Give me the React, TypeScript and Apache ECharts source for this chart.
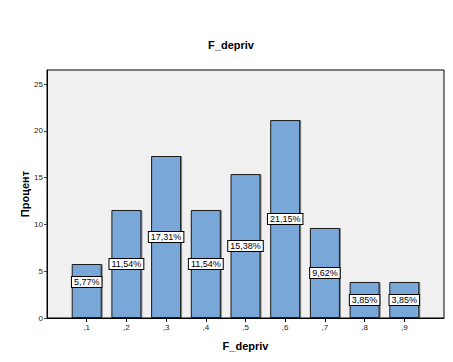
import React, { useEffect, useRef } from "react";
import * as echarts from "echarts";

const categories: number[] = [0.1, 0.2, 0.3, 0.4, 0.5, 0.6, 0.7, 0.8, 0.9];
const percents: number[] = [5.77, 11.54, 17.31, 11.54, 15.38, 21.15, 9.62, 3.85, 3.85];
const yTicks: number[] = [0, 5, 10, 15, 20, 25];
const title = "F_depriv";
const xName = "F_depriv";
const yName = "Процент";

const FONT = "Liberation Sans, Arial, sans-serif";

export default function App() {
  const ref = useRef<HTMLDivElement>(null);
  useEffect(() => {
    if (!ref.current) return;
    const chart = echarts.init(ref.current, undefined, { renderer: "svg" });
    const fmtTick = (v: number) => "," + String(Math.round(v * 10));
    chart.setOption({
      animation: false,
      backgroundColor: "#ffffff",
      title: {
        text: title,
        left: 226,
        top: 34,
        textAlign: "center",
        textStyle: { fontFamily: FONT, fontSize: 11, fontWeight: "bold", color: "#000" },
      },
      grid: {
        left: 47,
        right: 9,
        top: 70,
        bottom: 44,
        show: true,
        backgroundColor: "#f0f0f0",
        borderColor: "#000",
        borderWidth: 1,
      },
      xAxis: {
        type: "value",
        min: 0,
        max: 1,
        interval: 0.1,
        name: xName,
        nameLocation: "middle",
        nameGap: 22,
        nameTextStyle: { fontFamily: FONT, fontSize: 11, fontWeight: "bold", color: "#000" },
        axisLine: { show: true, lineStyle: { color: "#000" } },
        splitLine: { show: false },
        axisTick: { show: true, length: 4, customValues: categories, lineStyle: { color: "#000" } },
        axisLabel: {
          customValues: categories,
          formatter: fmtTick,
          fontFamily: FONT,
          fontSize: 8,
          color: "#222",
          margin: 5,
        },
      },
      yAxis: {
        type: "value",
        min: 0,
        max: 26.5,
        interval: 5,
        name: yName,
        nameLocation: "middle",
        nameGap: 17,
        nameMoveOverlap: false,
        nameRotate: 90,
        nameTextStyle: { fontFamily: FONT, fontSize: 11, fontWeight: "bold", color: "#000" },
        axisLine: { show: true, lineStyle: { color: "#000" } },
        splitLine: { show: false },
        axisTick: { show: true, length: 3, customValues: yTicks, lineStyle: { color: "#444" } },
        axisLabel: {
          customValues: yTicks,
          fontFamily: FONT,
          fontSize: 8,
          color: "#222",
          margin: 4,
        },
      },
      series: [
        {
          type: "bar",
          barWidth: 30,
          data: categories.map((c, i) => ({
            value: [c, percents[i]],
            label: i === 0 ? { offset: [0, -9] } : undefined,
          })),
          itemStyle: {
            color: "#79a8d8",
            borderColor: "#1a1a1a",
            borderWidth: 1,
            shadowColor: "rgba(0,0,0,0.45)",
            shadowOffsetX: 1,
            shadowOffsetY: 0,
            shadowBlur: 0,
          },
          label: {
            show: true,
            position: "inside",
            formatter: (p: any) => p.value[1].toFixed(2).replace(".", ",") + "%",
            fontFamily: FONT,
            fontSize: 9,
            color: "#000",
            backgroundColor: "#ffffff",
            borderColor: "#000",
            borderWidth: 1,
            padding: [1, 2, 0, 2],
          },
        },
      ],
    });
    return () => chart.dispose();
  }, []);
  return (
    <div
      ref={ref}
      style={{ position: "absolute", left: 0, top: 0, width: 453, height: 362 }}
    />
  );
}
